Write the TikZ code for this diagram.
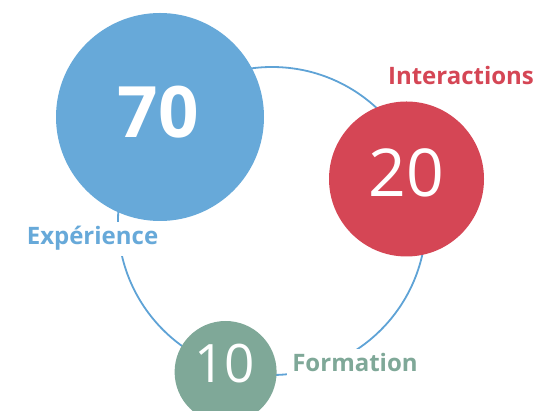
\documentclass[tikz,border=0pt]{standalone}
\usepackage{fontspec}
\setmainfont{Open Sans}
\usepackage{tikz}

\definecolor{expblue}{HTML}{67A9D9}
\definecolor{ringblue}{HTML}{5FA3D6}
\definecolor{intred}{HTML}{D54655}
\definecolor{formgreen}{HTML}{7FA898}

\begin{document}
\begin{tikzpicture}[x=1pt,y=1pt,
    disc/.style={circle,inner sep=0pt,outer sep=0pt},
    num/.style={text=white,inner sep=0pt},
    lbl/.style={fill=white,inner sep=5pt,font=\fontsize{24}{24}\selectfont\bfseries}]
    \useasboundingbox (0,0) rectangle (534,411);
    \clip (0,0) rectangle (534,411);

    % ring behind the discs
    \coordinate (ringc) at (272,190);
    \draw[ringblue,line width=1.8pt] (ringc) circle (154);

    % discs
    \node[disc,fill=expblue,minimum size=208pt] (exp) at (160,294) {};
    \node[disc,fill=intred,minimum size=155pt] (int) at (406.5,232) {};
    \node[disc,fill=formgreen,minimum size=102pt] (form) at (225.6,39) {};

    % numbers
    \node[num,font=\fontsize{71}{71}\selectfont\bfseries] (expnum) at (158.5,298.5) {70};
    \node[num,font=\fontsize{66}{66}\selectfont] (intnum) at (406,238.5) {20};
    \node[num,font=\fontsize{53}{53}\selectfont] (formnum) at (224.5,47) {10};

    % labels
    \node[lbl,text=expblue,anchor=base] (explbl) at (92.5,166) {Expérience};
    \node[lbl,text=intred] (intlbl) at (461,335) {Interactions};
    \node[lbl,text=formgreen,anchor=base] (formlbl) at (355,39) {Formation};
\end{tikzpicture}
\end{document}
